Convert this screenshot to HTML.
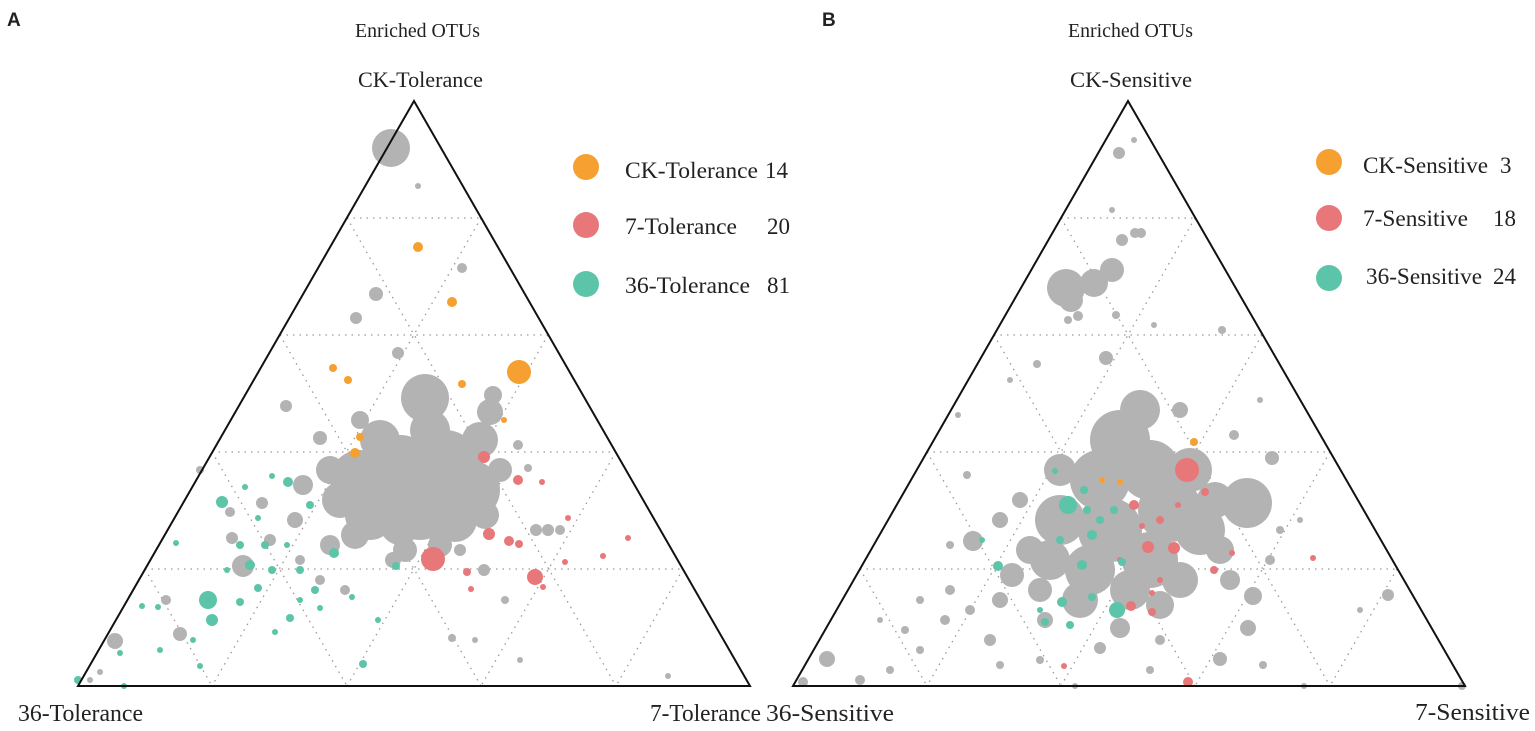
<!DOCTYPE html>
<html><head><meta charset="utf-8"><style>
body{margin:0;background:#fff;width:1535px;height:726px;overflow:hidden}
svg text{font-family:"Liberation Serif",serif;fill:#222}
</style></head><body>
<svg width="1535" height="726" viewBox="0 0 1535 726">
<text x="7" y="26" font-weight="bold" font-size="19" style="font-family:'Liberation Sans',sans-serif">A</text>
<text x="822" y="26" font-weight="bold" font-size="19" style="font-family:'Liberation Sans',sans-serif">B</text>

<g stroke="#999" stroke-width="1.3" stroke-dasharray="1.5,5" fill="none">
<line x1="347" y1="218" x2="481" y2="218"/><line x1="280" y1="335" x2="548" y2="335"/>
<line x1="212" y1="452" x2="616" y2="452"/><line x1="145" y1="569" x2="683" y2="569"/>
<line x1="347" y1="218" x2="616" y2="686"/><line x1="280" y1="335" x2="481" y2="686"/>
<line x1="212" y1="452" x2="347" y2="686"/><line x1="145" y1="569" x2="212" y2="686"/>
<line x1="481" y1="218" x2="212" y2="686"/><line x1="548" y1="335" x2="347" y2="686"/>
<line x1="616" y1="452" x2="481" y2="686"/><line x1="683" y1="569" x2="616" y2="686"/>
</g>
<g stroke="#999" stroke-width="1.3" stroke-dasharray="1.5,5" fill="none">
<line x1="1061" y1="218" x2="1195" y2="218"/><line x1="994" y1="335" x2="1262" y2="335"/>
<line x1="927" y1="452" x2="1330" y2="452"/><line x1="860" y1="569" x2="1397" y2="569"/>
<line x1="1061" y1="218" x2="1330" y2="686"/><line x1="994" y1="335" x2="1195" y2="686"/>
<line x1="927" y1="452" x2="1061" y2="686"/><line x1="860" y1="569" x2="927" y2="686"/>
<line x1="1195" y1="218" x2="927" y2="686"/><line x1="1262" y1="335" x2="1061" y2="686"/>
<line x1="1330" y1="452" x2="1195" y2="686"/><line x1="1397" y1="569" x2="1330" y2="686"/>
</g>

<g fill="#b3b3b4">
<circle cx="391" cy="148" r="19"/><circle cx="418" cy="186" r="3"/><circle cx="462" cy="268" r="5"/>
<circle cx="376" cy="294" r="7"/><circle cx="356" cy="318" r="6"/><circle cx="398" cy="353" r="6"/>
<circle cx="425" cy="398" r="24"/><circle cx="490" cy="412" r="13"/><circle cx="493" cy="395" r="9"/>
<circle cx="286" cy="406" r="6"/><circle cx="320" cy="438" r="7"/><circle cx="200" cy="470" r="4"/>
<circle cx="243" cy="566" r="11"/><circle cx="232" cy="538" r="6"/><circle cx="166" cy="600" r="5"/>
<circle cx="180" cy="634" r="7"/><circle cx="115" cy="641" r="8"/><circle cx="230" cy="512" r="5"/>
<circle cx="262" cy="503" r="6"/><circle cx="300" cy="560" r="5"/><circle cx="345" cy="590" r="5"/>
<circle cx="393" cy="560" r="8"/><circle cx="460" cy="550" r="6"/><circle cx="484" cy="570" r="6"/>
<circle cx="536" cy="530" r="6"/><circle cx="548" cy="530" r="6"/><circle cx="560" cy="530" r="5"/>
<circle cx="518" cy="445" r="5"/><circle cx="528" cy="468" r="4"/><circle cx="505" cy="600" r="4"/>
<circle cx="475" cy="640" r="3"/><circle cx="452" cy="638" r="4"/><circle cx="668" cy="676" r="3"/>
<circle cx="520" cy="660" r="3"/><circle cx="100" cy="672" r="3"/><circle cx="90" cy="680" r="3"/>
<circle cx="360" cy="420" r="9"/><circle cx="303" cy="485" r="10"/><circle cx="330" cy="545" r="10"/>
<circle cx="295" cy="520" r="8"/><circle cx="270" cy="540" r="6"/><circle cx="320" cy="580" r="5"/>
<circle cx="360" cy="480" r="30"/><circle cx="400" cy="470" r="35"/><circle cx="445" cy="465" r="35"/>
<circle cx="470" cy="490" r="30"/><circle cx="420" cy="510" r="30"/><circle cx="370" cy="515" r="25"/>
<circle cx="380" cy="440" r="20"/><circle cx="430" cy="430" r="20"/><circle cx="480" cy="440" r="18"/>
<circle cx="340" cy="500" r="18"/><circle cx="400" cy="525" r="20"/><circle cx="455" cy="520" r="22"/>
<circle cx="485" cy="515" r="14"/><circle cx="330" cy="470" r="14"/><circle cx="355" cy="535" r="14"/>
<circle cx="440" cy="545" r="12"/><circle cx="405" cy="550" r="12"/><circle cx="500" cy="470" r="12"/>
</g>
<g fill="#f5a030">
<circle cx="519" cy="372" r="12"/><circle cx="418" cy="247" r="5"/><circle cx="452" cy="302" r="5"/>
<circle cx="333" cy="368" r="4"/><circle cx="348" cy="380" r="4"/><circle cx="462" cy="384" r="4"/>
<circle cx="355" cy="453" r="5"/><circle cx="360" cy="437" r="4"/><circle cx="504" cy="420" r="3"/>
</g>
<g fill="#e8777a">
<circle cx="433" cy="559" r="12"/><circle cx="535" cy="577" r="8"/><circle cx="484" cy="457" r="6"/>
<circle cx="518" cy="480" r="5"/><circle cx="489" cy="534" r="6"/><circle cx="509" cy="541" r="5"/>
<circle cx="519" cy="544" r="4"/><circle cx="542" cy="482" r="3"/><circle cx="568" cy="518" r="3"/>
<circle cx="603" cy="556" r="3"/><circle cx="628" cy="538" r="3"/><circle cx="565" cy="562" r="3"/>
<circle cx="467" cy="572" r="4"/><circle cx="471" cy="589" r="3"/><circle cx="543" cy="587" r="3"/>
</g>
<g fill="#5cc4a8">
<circle cx="208" cy="600" r="9"/><circle cx="212" cy="620" r="6"/><circle cx="222" cy="502" r="6"/>
<circle cx="288" cy="482" r="5"/><circle cx="176" cy="543" r="3"/><circle cx="158" cy="607" r="3"/>
<circle cx="142" cy="606" r="3"/><circle cx="160" cy="650" r="3"/><circle cx="120" cy="653" r="3"/>
<circle cx="200" cy="666" r="3"/><circle cx="78" cy="680" r="4"/><circle cx="124" cy="686" r="3"/>
<circle cx="363" cy="664" r="4"/><circle cx="378" cy="620" r="3"/><circle cx="290" cy="618" r="4"/>
<circle cx="275" cy="632" r="3"/><circle cx="240" cy="602" r="4"/><circle cx="258" cy="588" r="4"/>
<circle cx="272" cy="570" r="4"/><circle cx="250" cy="565" r="5"/><circle cx="240" cy="545" r="4"/>
<circle cx="265" cy="545" r="4"/><circle cx="315" cy="590" r="4"/><circle cx="300" cy="600" r="3"/>
<circle cx="352" cy="597" r="3"/><circle cx="258" cy="518" r="3"/><circle cx="245" cy="487" r="3"/>
<circle cx="272" cy="476" r="3"/><circle cx="310" cy="505" r="4"/><circle cx="287" cy="545" r="3"/>
<circle cx="334" cy="553" r="5"/><circle cx="300" cy="570" r="4"/><circle cx="320" cy="608" r="3"/>
<circle cx="396" cy="566" r="4"/><circle cx="227" cy="570" r="3"/><circle cx="193" cy="640" r="3"/>
</g>

<g fill="#b3b3b4">
<circle cx="1134" cy="140" r="3"/><circle cx="1119" cy="153" r="6"/><circle cx="1112" cy="210" r="3"/>
<circle cx="1122" cy="240" r="6"/><circle cx="1135" cy="233" r="5"/><circle cx="1141" cy="233" r="5"/>
<circle cx="1066" cy="288" r="19"/><circle cx="1112" cy="270" r="12"/><circle cx="1094" cy="283" r="14"/>
<circle cx="1071" cy="300" r="12"/><circle cx="1078" cy="316" r="5"/><circle cx="1068" cy="320" r="4"/>
<circle cx="1116" cy="315" r="4"/><circle cx="1154" cy="325" r="3"/><circle cx="1222" cy="330" r="4"/>
<circle cx="1106" cy="358" r="7"/><circle cx="1180" cy="410" r="8"/><circle cx="1247" cy="503" r="25"/>
<circle cx="1272" cy="458" r="7"/><circle cx="1234" cy="435" r="5"/><circle cx="1260" cy="400" r="3"/>
<circle cx="1037" cy="364" r="4"/><circle cx="1010" cy="380" r="3"/><circle cx="958" cy="415" r="3"/>
<circle cx="973" cy="541" r="10"/><circle cx="967" cy="475" r="4"/><circle cx="950" cy="545" r="4"/>
<circle cx="827" cy="659" r="8"/><circle cx="803" cy="682" r="5"/><circle cx="860" cy="680" r="5"/>
<circle cx="890" cy="670" r="4"/><circle cx="920" cy="650" r="4"/><circle cx="905" cy="630" r="4"/>
<circle cx="945" cy="620" r="5"/><circle cx="970" cy="610" r="5"/><circle cx="990" cy="640" r="6"/>
<circle cx="1000" cy="665" r="4"/><circle cx="1075" cy="686" r="3"/><circle cx="1100" cy="648" r="6"/>
<circle cx="1120" cy="628" r="10"/><circle cx="1160" cy="640" r="5"/><circle cx="1220" cy="659" r="7"/>
<circle cx="1248" cy="628" r="8"/><circle cx="1253" cy="596" r="9"/><circle cx="1263" cy="665" r="4"/>
<circle cx="1304" cy="686" r="3"/><circle cx="1388" cy="595" r="6"/><circle cx="1360" cy="610" r="3"/>
<circle cx="1462" cy="686" r="4"/><circle cx="1150" cy="670" r="4"/><circle cx="1040" cy="660" r="4"/>
<circle cx="880" cy="620" r="3"/><circle cx="920" cy="600" r="4"/><circle cx="950" cy="590" r="5"/>
<circle cx="1012" cy="575" r="12"/><circle cx="1000" cy="600" r="8"/><circle cx="1045" cy="620" r="8"/>
<circle cx="1280" cy="530" r="4"/><circle cx="1270" cy="560" r="5"/><circle cx="1300" cy="520" r="3"/>
<circle cx="1120" cy="440" r="30"/><circle cx="1150" cy="470" r="30"/><circle cx="1100" cy="480" r="30"/>
<circle cx="1170" cy="510" r="32"/><circle cx="1110" cy="530" r="32"/><circle cx="1060" cy="520" r="25"/>
<circle cx="1190" cy="470" r="22"/><circle cx="1200" cy="530" r="25"/><circle cx="1150" cy="560" r="28"/>
<circle cx="1090" cy="570" r="25"/><circle cx="1050" cy="560" r="20"/><circle cx="1130" cy="590" r="20"/>
<circle cx="1080" cy="600" r="18"/><circle cx="1180" cy="580" r="18"/><circle cx="1215" cy="500" r="18"/>
<circle cx="1220" cy="550" r="14"/><circle cx="1140" cy="410" r="20"/><circle cx="1030" cy="550" r="14"/>
<circle cx="1060" cy="470" r="16"/><circle cx="1040" cy="590" r="12"/><circle cx="1160" cy="605" r="14"/>
<circle cx="1230" cy="580" r="10"/><circle cx="1000" cy="520" r="8"/><circle cx="1020" cy="500" r="8"/>
</g>
<g fill="#f5a030"><circle cx="1194" cy="442" r="4"/><circle cx="1102" cy="480" r="3"/><circle cx="1120" cy="482" r="3"/></g>
<g fill="#e8777a">
<circle cx="1187" cy="470" r="12"/><circle cx="1188" cy="682" r="5"/><circle cx="1131" cy="606" r="5"/>
<circle cx="1152" cy="612" r="4"/><circle cx="1174" cy="548" r="6"/><circle cx="1148" cy="547" r="6"/>
<circle cx="1134" cy="505" r="5"/><circle cx="1205" cy="492" r="4"/><circle cx="1232" cy="553" r="3"/>
<circle cx="1214" cy="570" r="4"/><circle cx="1313" cy="558" r="3"/><circle cx="1064" cy="666" r="3"/>
<circle cx="1142" cy="526" r="3"/><circle cx="1160" cy="520" r="4"/><circle cx="1178" cy="505" r="3"/>
<circle cx="1152" cy="593" r="3"/><circle cx="1120" cy="560" r="3"/><circle cx="1160" cy="580" r="3"/>
</g>
<g fill="#5cc4a8">
<circle cx="1068" cy="505" r="9"/><circle cx="1087" cy="510" r="4"/><circle cx="1114" cy="510" r="4"/>
<circle cx="1092" cy="535" r="5"/><circle cx="1082" cy="565" r="5"/><circle cx="998" cy="566" r="5"/>
<circle cx="982" cy="540" r="3"/><circle cx="1055" cy="471" r="3"/><circle cx="1117" cy="610" r="8"/>
<circle cx="1062" cy="602" r="5"/><circle cx="1045" cy="622" r="4"/><circle cx="1070" cy="625" r="4"/>
<circle cx="1122" cy="562" r="4"/><circle cx="1084" cy="490" r="4"/><circle cx="1100" cy="520" r="4"/>
<circle cx="1060" cy="540" r="4"/><circle cx="1040" cy="610" r="3"/><circle cx="1092" cy="597" r="4"/>
</g>

<polygon points="414,101 78,686 750,686" fill="none" stroke="#111" stroke-width="2"/>
<polygon points="1128,101 793,686 1465,686" fill="none" stroke="#111" stroke-width="2"/>

<g font-size="20">
<text x="355" y="37" textLength="125" lengthAdjust="spacingAndGlyphs">Enriched OTUs</text>
<text x="1068" y="37" textLength="125" lengthAdjust="spacingAndGlyphs">Enriched OTUs</text>
</g>
<g font-size="22">
<text x="358" y="87" textLength="125" lengthAdjust="spacingAndGlyphs">CK-Tolerance</text>
<text x="1070" y="87" textLength="122" lengthAdjust="spacingAndGlyphs">CK-Sensitive</text>
</g>
<g font-size="24">
<text x="18" y="721" textLength="125" lengthAdjust="spacingAndGlyphs">36-Tolerance</text>
<text x="650" y="721" textLength="111" lengthAdjust="spacingAndGlyphs">7-Tolerance</text>
<text x="766" y="721" textLength="128" lengthAdjust="spacingAndGlyphs">36-Sensitive</text>
<text x="1415" y="720" textLength="115" lengthAdjust="spacingAndGlyphs">7-Sensitive</text>
</g>
<g font-size="23">
<circle cx="586" cy="167" r="13" fill="#f5a030"/><text x="625" y="178" textLength="133" lengthAdjust="spacingAndGlyphs">CK-Tolerance</text><text x="765" y="178">14</text>
<circle cx="586" cy="225" r="13" fill="#e8777a"/><text x="625" y="234" textLength="112" lengthAdjust="spacingAndGlyphs">7-Tolerance</text><text x="767" y="234">20</text>
<circle cx="586" cy="284" r="13" fill="#5cc4a8"/><text x="625" y="293" textLength="125" lengthAdjust="spacingAndGlyphs">36-Tolerance</text><text x="767" y="293">81</text>
<circle cx="1329" cy="162" r="13" fill="#f5a030"/><text x="1363" y="173" textLength="125" lengthAdjust="spacingAndGlyphs">CK-Sensitive</text><text x="1500" y="173">3</text>
<circle cx="1329" cy="218" r="13" fill="#e8777a"/><text x="1363" y="226" textLength="105" lengthAdjust="spacingAndGlyphs">7-Sensitive</text><text x="1493" y="226">18</text>
<circle cx="1329" cy="278" r="13" fill="#5cc4a8"/><text x="1366" y="284" textLength="116" lengthAdjust="spacingAndGlyphs">36-Sensitive</text><text x="1493" y="284">24</text>
</g>
</svg>
</body></html>
